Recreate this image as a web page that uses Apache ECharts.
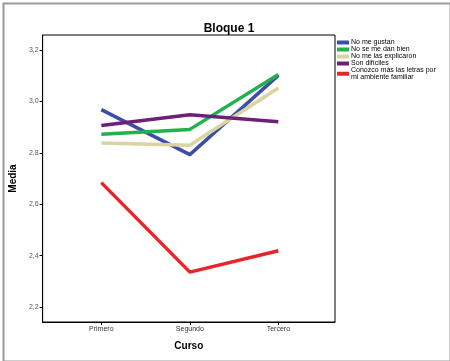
<!DOCTYPE html>
<html>
<head>
<meta charset="utf-8">
<script src="https://cdn.jsdelivr.net/npm/echarts@6/dist/echarts.min.js"></script>
<style>
  html, body { margin: 0; padding: 0; background: #fff; }
  #chart { width: 450px; height: 361px; }
</style>
</head>
<body>
<div id="chart"></div>
<script>
const categories = ['Primero', 'Segundo', 'Tercero']
const seriesNames = [
  'No me gustan',
  'No se me dan bien',
  'No me las explicaron',
  'Son difíciles',
  'Conozco más las letras por\nmi ambiente familiar',
]
const noMeGustan = [2.968, 2.793, 3.101]
const noSeMeDanBien = [2.872, 2.891, 3.104]
const noMeLasExplicaron = [2.838, 2.829, 3.052]
const sonDificiles = [2.906, 2.948, 2.921]
const conozcoMas = [2.684, 2.336, 2.419]
const yTicks = [2.2, 2.4, 2.6, 2.8, 3.0, 3.2]

const COLORS = ['#3b4fa6', '#22b14c', '#d9d4a2', '#6e1f78', '#e8252b']
const values = [noMeGustan, noSeMeDanBien, noMeLasExplicaron, sonDificiles, conozcoMas]

const chart = echarts.init(document.getElementById('chart'), null, { renderer: 'canvas' })

const fmt = v => v.toFixed(1).replace('.', ',')

chart.setOption({
  animation: false,
  color: COLORS,
  title: {
    text: 'Bloque 1', left: 224, top: 18, textAlign: 'center',
    textStyle: { fontFamily: 'Arial, Liberation Sans', fontSize: 12, fontWeight: 'bold', color: '#000' },
  },
  legend: {
    orient: 'vertical', left: 337, top: 39, itemGap: 0, padding: 0,
    itemWidth: 12, itemHeight: 4, icon: 'rect',
    textStyle: { fontFamily: 'Arial, Liberation Sans', fontSize: 7, lineHeight: 6.5, color: '#000', padding: [0, 0, 0, -3] },
    data: seriesNames,
  },
  grid: { left: 41, right: 115, top: 35, bottom: 39, show: true, borderColor: '#000', borderWidth: 1, backgroundColor: '#fff' },
  xAxis: {
    type: 'value', min: -0.663, max: 2.64,
    name: 'Curso', nameLocation: 'middle', nameGap: 19,
    nameTextStyle: { fontFamily: 'Arial, Liberation Sans', fontSize: 10, fontWeight: 'bold', color: '#000' },
    axisLine: { show: true, onZero: false, lineStyle: { color: '#000', width: 1 } },
    axisTick: { show: true, length: 3, lineStyle: { color: '#000' }, customValues: [0, 1, 2] },
    axisLabel: { customValues: [0, 1, 2], formatter: v => categories[Math.round(v)], fontFamily: 'Arial, Liberation Sans', fontSize: 7, color: '#333', margin: 4 },
    splitLine: { show: false },
  },
  yAxis: {
    type: 'value', min: 2.142, max: 3.258,
    name: 'Media', nameLocation: 'middle', nameGap: 24,
    nameTextStyle: { fontFamily: 'Arial, Liberation Sans', fontSize: 10, fontWeight: 'bold', color: '#000' },
    axisLine: { show: true, onZero: false, lineStyle: { color: '#000', width: 1 } },
    axisTick: { show: true, length: 3, lineStyle: { color: '#000' }, customValues: yTicks },
    axisLabel: { customValues: yTicks, formatter: fmt, fontFamily: 'Arial, Liberation Sans', fontSize: 7, color: '#555', margin: 4 },
    splitLine: { show: false },
  },
  graphic: [{
    type: 'rect', left: 1, top: 1, silent: true,
    shape: { width: 447, height: 358 },
    style: { fill: 'none', stroke: '#9a9a9a', lineWidth: 2 },
  }],
  series: seriesNames.map((name, i) => ({
    name, type: 'line',
    data: values[i].map((v, j) => [j, v]),
    symbol: 'none',
    lineStyle: { width: 3.5, color: COLORS[i] },
  })),
})
</script>
</body>
</html>
